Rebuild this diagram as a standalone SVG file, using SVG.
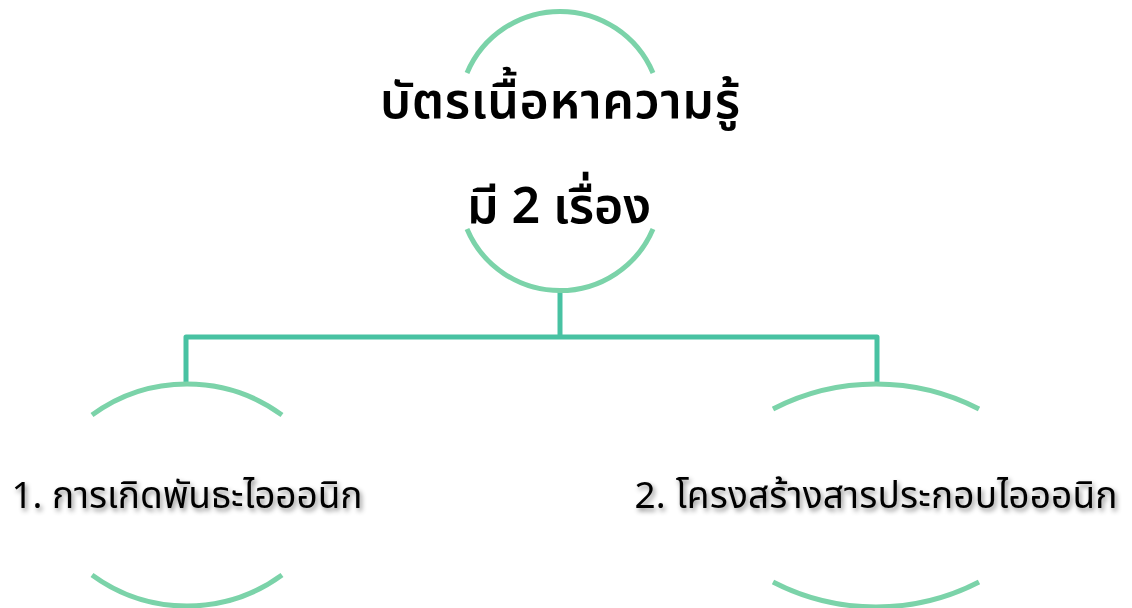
<svg xmlns="http://www.w3.org/2000/svg" width="1132" height="608" viewBox="0 0 1132 608">
  <defs>
    <filter id="shadow" x="-10%" y="-40%" width="120%" height="180%">
      <feDropShadow dx="2" dy="3" stdDeviation="2.5" flood-color="#000" flood-opacity="0.45"/>
    </filter>
    <style>
      .arc { fill: none; stroke: #7BD3A9; stroke-width: 5; }
      .conn { fill: none; stroke: #48C2A2; stroke-width: 5; stroke-linejoin: round; }
      .title { font-family: "Noto Sans", "Noto Sans Thai", "Liberation Sans", sans-serif; font-weight: 600; font-size: 50px; fill: #000; text-anchor: middle; }
      .label { font-family: "Noto Sans", "Noto Sans Thai", "Liberation Sans", sans-serif; font-weight: 400; font-size: 37px; fill: #000; text-anchor: middle; filter: url(#shadow); }
    </style>
  </defs>
  <rect width="1132" height="608" fill="#fff"/>
  <g id="connectors">
    <path class="conn" d="M560,290 V337"/>
    <path class="conn" d="M186,383 V337 H877 V383"/>
  </g>
  <g id="root">
    <path class="arc" d="M467,73 A101,101 0 0 1 653,73"/>
    <path class="arc" d="M467,229 A101,101 0 0 0 653,229"/>
    <text class="title" x="560" y="118" textLength="360" lengthAdjust="spacing">บัตรเนื้อหาความรู้</text>
    <text class="title" x="559" y="223" textLength="184" lengthAdjust="spacing">มี 2 เรื่อง</text>
  </g>
  <g id="node1">
    <path class="arc" d="M92,415 A161,161 0 0 1 282,415"/>
    <path class="arc" d="M92,575 A161,161 0 0 0 282,575"/>
    <text class="label" x="187" y="508" textLength="351" lengthAdjust="spacing">1. การเกิดพันธะไอออนิก</text>
  </g>
  <g id="node2">
    <path class="arc" d="M773,409 A225,225 0 0 1 979,409"/>
    <path class="arc" d="M773,582 A225,225 0 0 0 979,582"/>
    <text class="label" x="876" y="508" textLength="483" lengthAdjust="spacing">2. โครงสร้างสารประกอบไอออนิก</text>
  </g>
</svg>
